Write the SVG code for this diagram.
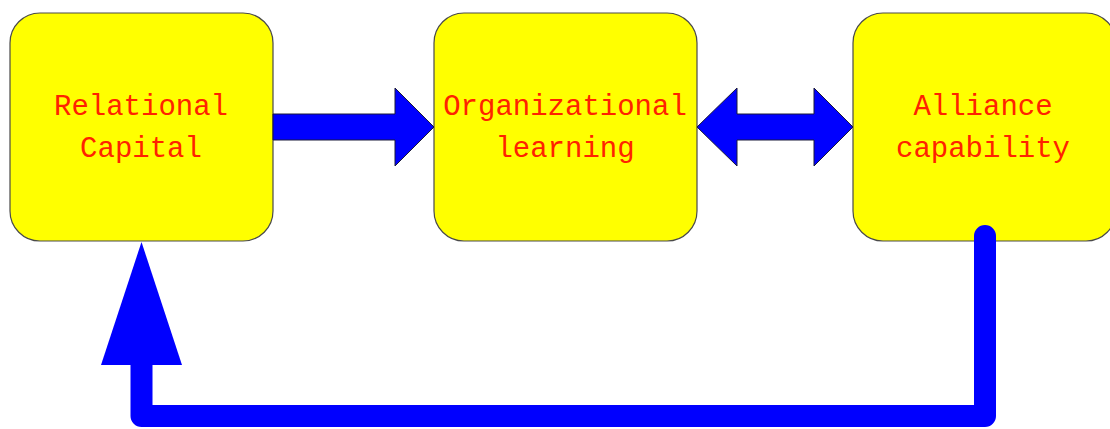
<svg xmlns="http://www.w3.org/2000/svg" width="1110" height="429" viewBox="0 0 1110 429">
  <style>
    .box { fill: #ffff00; stroke: #4a4a4a; stroke-width: 1.2; }
    .label { font-family: "Liberation Mono", "DejaVu Sans Mono", monospace; font-size: 29px; fill: #ff2200; text-anchor: middle; }
    .block { fill: #0000ff; stroke: #1a1a3a; stroke-width: 1; stroke-linejoin: miter; }
    .loop { fill: none; stroke: #0000ff; stroke-width: 22; stroke-linejoin: round; stroke-linecap: round; }
  </style>

  <g id="relational-capital">
    <rect class="box" x="10" y="13" width="263" height="228" rx="30" ry="30"/>
    <text class="label" x="141" y="115">Relational</text>
    <text class="label" x="141" y="157">Capital</text>
  </g>

  <g id="organizational-learning">
    <rect class="box" x="434" y="13" width="263" height="228" rx="30" ry="30"/>
    <text class="label" x="565" y="115">Organizational</text>
    <text class="label" x="565" y="157">learning</text>
  </g>

  <g id="alliance-capability">
    <rect class="box" x="853" y="13" width="263" height="228" rx="30" ry="30"/>
    <text class="label" x="983" y="115">Alliance</text>
    <text class="label" x="983" y="157">capability</text>
  </g>

  <!-- connectors sit on top of the boxes -->
  <g id="connectors">
    <!-- block arrow: Relational Capital -> Organizational learning -->
    <polygon class="block" points="273,114 395,114 395,88 434,127 395,166 395,140 273,140"/>
    <!-- double-headed block arrow between learning and capability -->
    <polygon class="block" points="697,127 737,88 737,114 814,114 814,88 853,127 814,166 814,140 737,140 737,166"/>
    <!-- feedback loop from Alliance capability back to Relational Capital -->
    <path class="loop" d="M985,236 L985,416 L141.5,416 L141.5,360"/>
    <polygon fill="#0000ff" points="141.5,242 182,365 101,365"/>
  </g>
</svg>
